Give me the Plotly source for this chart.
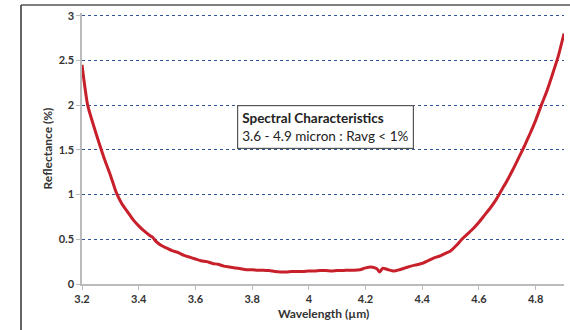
import plotly.graph_objects as go

# Reflectance curve
wavelength = [
    3.20, 3.22, 3.24, 3.26, 3.28, 3.30, 3.32, 3.34, 3.36, 3.38, 3.40, 3.42, 3.44, 3.45,
    3.46, 3.48, 3.50, 3.52, 3.54, 3.56, 3.58, 3.60, 3.62, 3.64, 3.66, 3.68, 3.70, 3.72,
    3.74, 3.76, 3.78, 3.80, 3.82, 3.84, 3.86, 3.88, 3.90, 3.92, 3.94, 3.96, 3.98, 4.00,
    4.02, 4.04, 4.06, 4.08, 4.10, 4.12, 4.14, 4.16, 4.18, 4.20, 4.22, 4.24, 4.25, 4.26,
    4.27, 4.28, 4.30, 4.32, 4.34, 4.36, 4.38, 4.40, 4.42, 4.44, 4.46, 4.48, 4.50, 4.52,
    4.54, 4.56, 4.58, 4.60, 4.62, 4.64, 4.66, 4.68, 4.70, 4.72, 4.74, 4.76, 4.78, 4.80,
    4.82, 4.84, 4.86, 4.88, 4.90,
]
reflectance = [
    2.45, 2.00, 1.78, 1.58, 1.39, 1.22, 1.03, 0.90, 0.81, 0.72, 0.65, 0.59, 0.54, 0.52,
    0.48, 0.43, 0.40, 0.37, 0.35, 0.32, 0.30, 0.28, 0.26, 0.25, 0.23, 0.22, 0.20, 0.19,
    0.18, 0.17, 0.16, 0.16, 0.155, 0.155, 0.15, 0.14, 0.135, 0.135, 0.14, 0.14, 0.14, 0.145,
    0.145, 0.15, 0.15, 0.145, 0.15, 0.15, 0.155, 0.155, 0.16, 0.18, 0.19, 0.17, 0.135, 0.175,
    0.17, 0.16, 0.145, 0.16, 0.18, 0.20, 0.215, 0.23, 0.26, 0.29, 0.31, 0.34, 0.37, 0.43,
    0.50, 0.56, 0.62, 0.69, 0.77, 0.85, 0.94, 1.05, 1.16, 1.28, 1.41, 1.54, 1.68, 1.83,
    2.00, 2.16, 2.35, 2.55, 2.80,
]
y_ticks = [0, 0.5, 1, 1.5, 2, 2.5, 3]

fig = go.Figure()
fig.add_trace(go.Scatter(
    x=wavelength, y=reflectance, mode="lines",
    line=dict(color="#C8202B", width=3, shape="spline", smoothing=0.6),
    showlegend=False, hoverinfo="skip",
))

tick_font = dict(family="Lato", size=11, color="#333333", weight="bold")
title_font = dict(family="Lato", size=12, color="#333333", weight="bold")

# plot area spans roughly x 82..564, y 13..284 (value 3 lands at ~16px)
fig.update_layout(
    width=570, height=330,
    margin=dict(l=82, r=6, t=13, b=46),
    paper_bgcolor="white", plot_bgcolor="white",
    font=dict(family="Lato", color="#222222"),
    xaxis=dict(
        range=[3.2, 4.9], dtick=0.2, tick0=3.2,
        showgrid=False, zeroline=False, automargin=False,
        showline=True, linecolor="#BBBBBB", linewidth=1.5,
        ticks="outside", ticklen=4, tickcolor="#BBBBBB",
        tickfont=tick_font,
    ),
    yaxis=dict(
        range=[0, 3.03], tickvals=y_ticks,
        showgrid=True, gridcolor="#2F5597", griddash="dot", gridwidth=1,
        zeroline=False, automargin=False,
        showline=True, linecolor="#BBBBBB", linewidth=1.5,
        ticks="outside", ticklen=4, tickcolor="#BBBBBB",
        tickfont=tick_font,
    ),
)

# axis titles placed as annotations for exact position
fig.add_annotation(x=0.5, y=-29 / 271, xref="paper", yref="paper",
                   xanchor="center", yanchor="middle",
                   text="Wavelength (µm)", showarrow=False, font=title_font)
fig.add_annotation(x=(47 - 82) / 482, y=0.5, xref="paper", yref="paper",
                   xanchor="center", yanchor="middle",
                   text="Reflectance (%)", textangle=-90, showarrow=False, font=title_font)

# Annotation box
fig.add_annotation(
    x=3.746, y=2.0, xref="x", yref="y", xanchor="left", yanchor="top",
    text="<b>Spectral Characteristics</b><br>3.6 - 4.9 micron : Ravg < 1%",
    align="left", showarrow=False,
    font=dict(family="Lato", size=13.5, color="#222222"),
    bgcolor="white", bordercolor="#555555", borderwidth=1.2, borderpad=4,
)

# Outer frame (left and top edges visible)
frame_x = (21 - 82) / 482
frame_y = (284 - 5) / 271
fig.add_shape(type="line", xref="paper", yref="paper",
              x0=frame_x, x1=frame_x, y0=frame_y, y1=-0.2,
              line=dict(color="#333333", width=1.5))
fig.add_shape(type="line", xref="paper", yref="paper",
              x0=frame_x, x1=1.02, y0=frame_y, y1=frame_y,
              line=dict(color="#555555", width=1.5))

fig.write_html("out.html", config={"displayModeBar": False},
               post_script="document.body.style.margin='0';")
